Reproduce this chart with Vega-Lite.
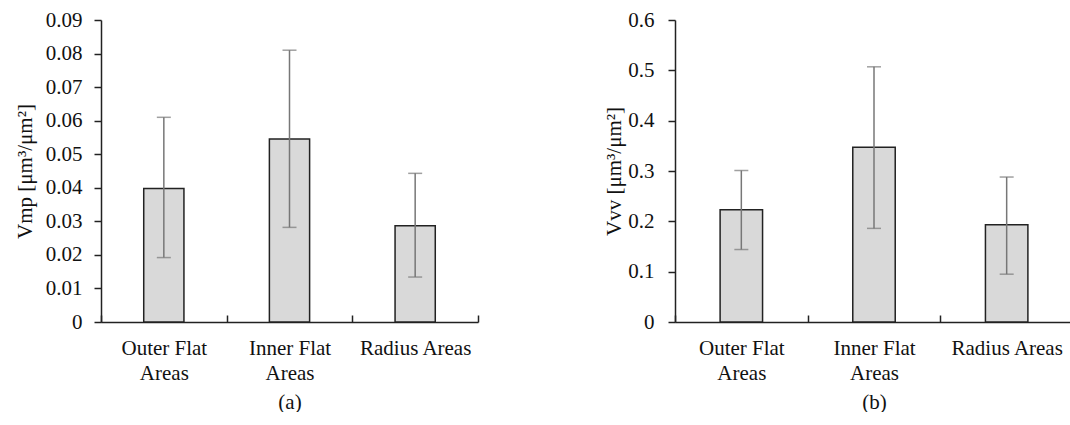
{
  "$schema": "https://vega.github.io/schema/vega-lite/v6.json",
  "background": "white",
  "padding": {"left": 14, "top": 9, "right": 0, "bottom": 0},
  "config": {
    "view": {"stroke": null},
    "concat": {"spacing": 124},
    "axis": {
      "labelFont": "Liberation Serif",
      "labelFontSize": 21,
      "labelColor": "#111111",
      "titleFont": "Liberation Serif",
      "titleFontSize": 21,
      "titleFontWeight": "normal",
      "titleColor": "#111111",
      "domainColor": "#222222",
      "domainWidth": 1.5,
      "tickColor": "#222222",
      "tickWidth": 1.5,
      "grid": false
    }
  },
  "datasets": {
    "vmp": [
      {"region": "Outer Flat Areas", "mean": 0.0398, "lo": 0.0192, "hi": 0.0610},
      {"region": "Inner Flat Areas", "mean": 0.0545, "lo": 0.0282, "hi": 0.0810},
      {"region": "Radius Areas", "mean": 0.0287, "lo": 0.0134, "hi": 0.0443}
    ],
    "vvv": [
      {"region": "Outer Flat Areas", "mean": 0.223, "lo": 0.144, "hi": 0.301},
      {"region": "Inner Flat Areas", "mean": 0.347, "lo": 0.186, "hi": 0.507},
      {"region": "Radius Areas", "mean": 0.193, "lo": 0.095, "hi": 0.288}
    ]
  },
  "hconcat": [
    {
      "width": 377,
      "height": 302,
      "data": {"name": "vmp"},
      "encoding": {
        "x": {
          "field": "region", "type": "nominal", "sort": null,
          "scale": {"paddingInner": 0, "paddingOuter": 0},
          "axis": {
            "title": "(a)", "labelAngle": 0, "tickBand": "extent", "tickSize": -7,
            "labelPadding": 22, "labelLineHeight": 25, "labelOverlap": false,
            "labelFont": "Liberation Serif", "labelFontSize": 21, "labelColor": "#111111",
            "titleFont": "Liberation Serif", "titleFontSize": 21, "titleFontWeight": "normal", "titleColor": "#111111",
            "titlePadding": 8,
            "labelExpr": "!isString(datum.value) ? '' : (datum.value == 'Radius Areas' ? datum.value : [replace(datum.value, ' Areas', ''), 'Areas'])"
          }
        }
      },
      "layer": [
        {
          "mark": {"type": "bar", "width": {"band": 0.32}, "fill": "#d9d9d9", "stroke": "#222222", "strokeWidth": 1.5},
          "encoding": {
            "y": {"field": "mean", "type": "quantitative", "scale": {"domain": [0, 0.09], "nice": false},
              "axis": {"title": "Vmp [μm³/μm²]", "values": [0, 0.01, 0.02, 0.03, 0.04, 0.05, 0.06, 0.07, 0.08, 0.09], "format": ".2~f",
                "tickSize": 7, "labelPadding": 12, "titlePadding": 10, "labelOverlap": false,
                "labelFont": "Liberation Serif", "labelFontSize": 21, "labelColor": "#111111",
                "titleFont": "Liberation Serif", "titleFontSize": 21, "titleFontWeight": "normal", "titleColor": "#111111"}}
          }
        },
        {
          "mark": {"type": "rule", "color": "#777777", "strokeWidth": 1.5},
          "encoding": {
            "y": {"field": "lo", "type": "quantitative",
              "axis": {"title": "Vmp [μm³/μm²]", "values": [0, 0.01, 0.02, 0.03, 0.04, 0.05, 0.06, 0.07, 0.08, 0.09], "format": ".2~f",
                "tickSize": 7, "labelPadding": 12, "titlePadding": 10, "labelOverlap": false,
                "labelFont": "Liberation Serif", "labelFontSize": 21, "labelColor": "#111111",
                "titleFont": "Liberation Serif", "titleFontSize": 21, "titleFontWeight": "normal", "titleColor": "#111111"}},
            "y2": {"field": "hi"}
          }
        },
        {
          "mark": {"type": "tick", "color": "#777777", "size": 14, "thickness": 1.5},
          "encoding": {
            "y": {"field": "lo", "type": "quantitative",
              "axis": {"title": "Vmp [μm³/μm²]", "values": [0, 0.01, 0.02, 0.03, 0.04, 0.05, 0.06, 0.07, 0.08, 0.09], "format": ".2~f",
                "tickSize": 7, "labelPadding": 12, "titlePadding": 10, "labelOverlap": false,
                "labelFont": "Liberation Serif", "labelFontSize": 21, "labelColor": "#111111",
                "titleFont": "Liberation Serif", "titleFontSize": 21, "titleFontWeight": "normal", "titleColor": "#111111"}}
          }
        },
        {
          "mark": {"type": "tick", "color": "#777777", "size": 14, "thickness": 1.5},
          "encoding": {
            "y": {"field": "hi", "type": "quantitative",
              "axis": {"title": "Vmp [μm³/μm²]", "values": [0, 0.01, 0.02, 0.03, 0.04, 0.05, 0.06, 0.07, 0.08, 0.09], "format": ".2~f",
                "tickSize": 7, "labelPadding": 12, "titlePadding": 10, "labelOverlap": false,
                "labelFont": "Liberation Serif", "labelFontSize": 21, "labelColor": "#111111",
                "titleFont": "Liberation Serif", "titleFontSize": 21, "titleFontWeight": "normal", "titleColor": "#111111"}}
          }
        }
      ]
    },
    {
      "width": 398,
      "height": 302,
      "data": {"name": "vvv"},
      "encoding": {
        "x": {
          "field": "region", "type": "nominal", "sort": null,
          "scale": {"paddingInner": 0, "paddingOuter": 0},
          "axis": {
            "title": "(b)", "labelAngle": 0, "tickBand": "extent", "tickSize": -7,
            "labelPadding": 22, "labelLineHeight": 25, "labelOverlap": false,
            "labelFont": "Liberation Serif", "labelFontSize": 21, "labelColor": "#111111",
            "titleFont": "Liberation Serif", "titleFontSize": 21, "titleFontWeight": "normal", "titleColor": "#111111",
            "titlePadding": 8,
            "labelExpr": "!isString(datum.value) ? '' : (datum.value == 'Radius Areas' ? datum.value : [replace(datum.value, ' Areas', ''), 'Areas'])"
          }
        }
      },
      "layer": [
        {
          "mark": {"type": "bar", "width": {"band": 0.32}, "fill": "#d9d9d9", "stroke": "#222222", "strokeWidth": 1.5},
          "encoding": {
            "y": {"field": "mean", "type": "quantitative", "scale": {"domain": [0, 0.6], "nice": false},
              "axis": {"title": "Vvv [μm³/μm²]", "values": [0, 0.1, 0.2, 0.3, 0.4, 0.5, 0.6], "format": ".1~f",
                "tickSize": 7, "labelPadding": 14, "titlePadding": 3, "labelOverlap": false,
                "labelFont": "Liberation Serif", "labelFontSize": 21, "labelColor": "#111111",
                "titleFont": "Liberation Serif", "titleFontSize": 21, "titleFontWeight": "normal", "titleColor": "#111111"}}
          }
        },
        {
          "mark": {"type": "rule", "color": "#777777", "strokeWidth": 1.5},
          "encoding": {
            "y": {"field": "lo", "type": "quantitative",
              "axis": {"title": "Vvv [μm³/μm²]", "values": [0, 0.1, 0.2, 0.3, 0.4, 0.5, 0.6], "format": ".1~f",
                "tickSize": 7, "labelPadding": 14, "titlePadding": 3, "labelOverlap": false,
                "labelFont": "Liberation Serif", "labelFontSize": 21, "labelColor": "#111111",
                "titleFont": "Liberation Serif", "titleFontSize": 21, "titleFontWeight": "normal", "titleColor": "#111111"}},
            "y2": {"field": "hi"}
          }
        },
        {
          "mark": {"type": "tick", "color": "#777777", "size": 14, "thickness": 1.5},
          "encoding": {
            "y": {"field": "lo", "type": "quantitative",
              "axis": {"title": "Vvv [μm³/μm²]", "values": [0, 0.1, 0.2, 0.3, 0.4, 0.5, 0.6], "format": ".1~f",
                "tickSize": 7, "labelPadding": 14, "titlePadding": 3, "labelOverlap": false,
                "labelFont": "Liberation Serif", "labelFontSize": 21, "labelColor": "#111111",
                "titleFont": "Liberation Serif", "titleFontSize": 21, "titleFontWeight": "normal", "titleColor": "#111111"}}
          }
        },
        {
          "mark": {"type": "tick", "color": "#777777", "size": 14, "thickness": 1.5},
          "encoding": {
            "y": {"field": "hi", "type": "quantitative",
              "axis": {"title": "Vvv [μm³/μm²]", "values": [0, 0.1, 0.2, 0.3, 0.4, 0.5, 0.6], "format": ".1~f",
                "tickSize": 7, "labelPadding": 14, "titlePadding": 3, "labelOverlap": false,
                "labelFont": "Liberation Serif", "labelFontSize": 21, "labelColor": "#111111",
                "titleFont": "Liberation Serif", "titleFontSize": 21, "titleFontWeight": "normal", "titleColor": "#111111"}}
          }
        }
      ]
    }
  ]
}
